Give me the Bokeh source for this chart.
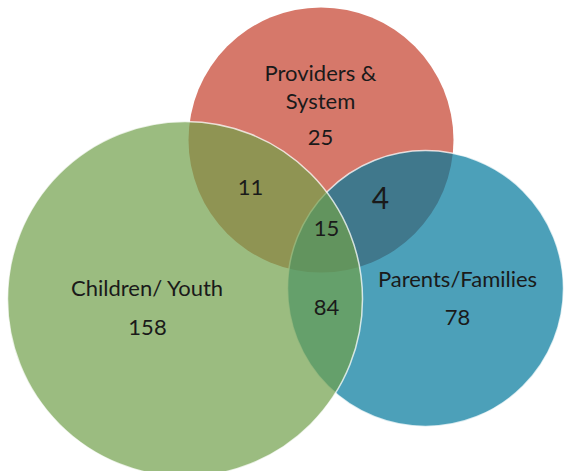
from bokeh.plotting import figure
from bokeh.models import Range1d, ColumnDataSource
from bokeh.core.properties import value
from bokeh.embed import file_html
from bokeh.resources import INLINE

# ---- data ----
set_names = ["Providers &\nSystem", "Parents/Families", "Children/ Youth"]
set_only_counts = [25, 78, 158]
pair_labels = ["Providers & Children", "Providers & Parents", "Children & Parents"]
pair_counts = [11, 4, 84]
triple_count = 15

# ---- layout (pixel geometry of the diagram) ----
W, H = 564, 471
circ_x = [320.5, 425.0, 184.5]
circ_y = [139.5, 288.0, 298.5]
circ_r = [132.5, 138.0, 177.5]
circ_col = ["#d6786a", "#00779b", "#70a04a"]
circ_alpha = [1.0, 0.70, 0.70]

p = figure(width=W, height=H, x_range=Range1d(0, W), y_range=Range1d(H, 0),
           output_backend="svg", toolbar_location=None, min_border=0)
p.axis.visible = False
p.grid.visible = False
p.outline_line_color = None
p.background_fill_color = "white"

for i in range(3):
    p.circle(x=[circ_x[i]], y=[circ_y[i]], radius=circ_r[i],
             fill_color=circ_col[i], fill_alpha=circ_alpha[i],
             line_color="white", line_alpha=0.75 if i else 0.0, line_width=1.5)

font = value("Lato")
tc = "#1a1a1a"
fs = "22px"

# set names
name_x = [320, 457, 147]
name_y = [72, 278, 287]
p.text(x=[name_x[0]], y=[name_y[0]], text=["Providers &"], text_font=font, text_font_size=fs,
       text_color=tc, text_align="center", text_baseline="middle")
p.text(x=[name_x[0]], y=[name_y[0] + 28], text=["System"], text_font=font, text_font_size=fs,
       text_color=tc, text_align="center", text_baseline="middle")
p.text(x=name_x[1:], y=name_y[1:], text=set_names[1:], text_font=font, text_font_size=fs,
       text_color=tc, text_align="center", text_baseline="middle")

# counts
cnt_x = [320, 457, 147]
cnt_y = [137, 317, 327]
p.text(x=cnt_x, y=cnt_y, text=[str(v) for v in set_only_counts], text_font=font,
       text_font_size=fs, text_color=tc, text_align="center", text_baseline="middle")

pair_x = [250, 380, 326]
pair_y = [187, 197, 307]
pair_fs = ["22px", "30px", "22px"]
src = ColumnDataSource(dict(x=pair_x, y=pair_y, t=[str(v) for v in pair_counts], fs=pair_fs))
p.text(x="x", y="y", text="t", source=src, text_font=font, text_font_size="fs",
       text_color=tc, text_align="center", text_baseline="middle")

p.text(x=[326], y=[228], text=[str(triple_count)], text_font=font, text_font_size=fs,
       text_color=tc, text_align="center", text_baseline="middle")

open("out.html", "w").write(file_html(p, INLINE))
